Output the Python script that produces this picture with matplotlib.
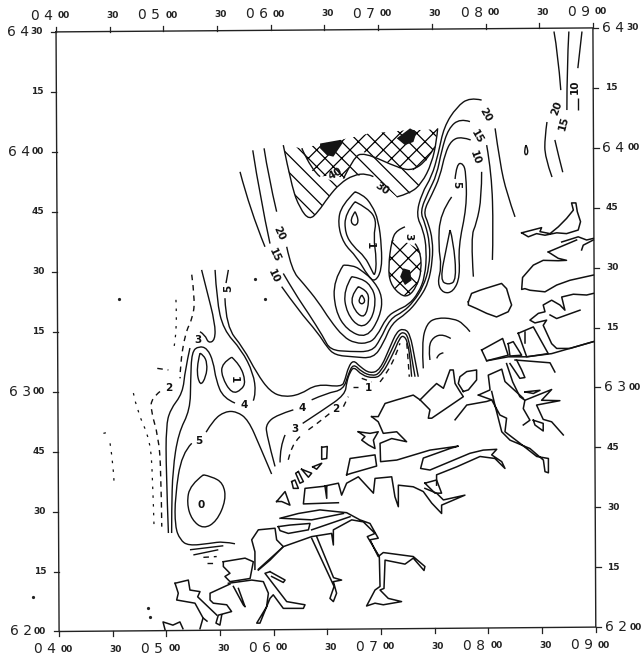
import numpy as np
import matplotlib
matplotlib.use("Agg")
from matplotlib import pyplot as plt
from matplotlib.patches import PathPatch, Polygon
from matplotlib.path import Path

# map coordinates: minutes east of 04 00, minutes north of 62 00
# frame corners as scanned (the page sits slightly crooked)
frame = [(0.3, 149.9), (299.4, 150.9), (301.0, 0.6), (2.0, -0.5)]

lon_labels = ["0400", "30", "0500", "30", "0600", "30", "0700", "30", "0800", "30", "0900"]
lat_labels = ["6200", "15", "30", "45", "6300", "15", "30", "45", "6400", "15", "6430"]

# depth contours, left flank round to the north east
c20_a = [(116.2, 120.7), (118.6, 113.6), (123.2, 104.8)]
c20_b = [(128.8, 96.0), (131.6, 90.1), (138.1, 86.8), (146.4, 82.2), (152.9, 77.6), (160.4, 73.4), (166.9, 71.8), (174.3, 71.8), (178.9, 73.4), (184.5, 78.4), (190.1, 80.1), (196.6, 81.4), (202.1, 84.3), (205.9, 88.5), (206.8, 95.2), (204.9, 100.2), (200.9, 103.9), (204.0, 109.4), (209.6, 113.6), (213.3, 119.4), (216.4, 126.1), (223.5, 131.1), (230.9, 133.5), (237.4, 132.8)]
c20_c = [(244.9, 125.7), (247.6, 116.9), (251.4, 109.4), (256.0, 103.5)]
c15_a = [(109.9, 120.2), (113.9, 108.5), (119.5, 96.8)]
c15_b = [(126.9, 89.3), (133.4, 84.3), (140.9, 79.3), (149.2, 73.4), (152.9, 70.1), (164.1, 69.7), (176.2, 69.7), (180.8, 72.6), (186.4, 78.0), (193.8, 79.7), (199.4, 82.2), (204.9, 86.0), (208.3, 91.0), (208.6, 96.8), (205.9, 101.9), (203.1, 104.8), (207.7, 109.8), (212.4, 114.0), (215.1, 120.2), (218.9, 125.7), (225.4, 128.2), (230.9, 127.4)]
c15_c = [(240.2, 121.5), (243.0, 114.4), (243.9, 100.2), (243.4, 92.7)]
c10_a = [(102.8, 114.8), (108.4, 105.2), (116.7, 96.0)]
c10_b = [(126.0, 86.0), (135.3, 80.1), (146.4, 74.3), (151.1, 70.9), (155.7, 68.8), (165.9, 68.4), (177.1, 68.0), (182.7, 71.8), (187.3, 76.8), (195.7, 79.3), (202.1, 82.6), (207.7, 86.8), (210.1, 92.7), (210.1, 97.7), (207.7, 101.9), (204.9, 104.8), (209.6, 109.0), (214.2, 113.6), (217.0, 119.4), (220.7, 122.8), (226.3, 123.6), (231.3, 122.8)]
c10_c = [(237.4, 114.8), (237.4, 108.5), (234.6, 101.9), (231.3, 98.5), (232.8, 88.5)]
c5_loop = [(220.7, 108.5), (214.2, 104.4), (213.3, 96.0), (215.1, 91.0), (212.7, 86.8), (216.1, 84.3), (221.6, 84.7), (225.4, 88.5), (224.4, 96.0), (229.1, 106.0), (228.7, 114.4), (227.2, 116.9), (223.5, 116.9), (222.6, 113.0)]
c5_inner = [(219.8, 100.2), (217.9, 96.0), (214.2, 87.6), (218.9, 86.4), (223.5, 87.6), (221.6, 97.7), (219.8, 100.2)]

blob_up_1 = [(166.9, 109.8), (159.4, 106.5), (157.2, 101.9), (160.4, 96.8), (167.8, 93.5), (174.3, 88.5), (178.0, 87.2), (181.7, 90.1), (181.7, 96.0), (179.9, 102.7), (176.2, 106.5), (171.5, 109.0), (166.9, 109.8)]
blob_up_2 = [(166.9, 107.3), (161.3, 104.4), (161.3, 99.3), (166.0, 96.0), (172.4, 93.5), (176.2, 90.1), (178.0, 88.5), (178.9, 92.7), (177.1, 98.5), (178.9, 102.7), (174.3, 105.6), (166.9, 107.3)]
blob_up_3 = [(166.9, 104.8), (163.7, 102.7), (166.9, 101.0), (169.3, 102.7), (166.9, 104.8)]
blob_low_1 = [(160.4, 91.4), (154.8, 87.6), (155.7, 80.1), (162.2, 75.1), (173.4, 73.0), (180.8, 78.4), (182.3, 83.5), (177.1, 87.6), (171.5, 89.7), (166.0, 91.4), (160.4, 91.4)]
blob_low_2 = [(165.0, 88.5), (160.4, 85.1), (162.2, 79.3), (169.7, 75.5), (176.2, 77.6), (178.6, 82.6), (176.2, 86.0), (170.6, 88.1), (165.0, 88.5)]
blob_low_3 = [(168.7, 86.0), (164.1, 83.5), (166.9, 79.7), (172.4, 78.0), (174.9, 82.6), (173.4, 85.1), (168.7, 86.0)]
blob_low_4 = [(170.6, 83.9), (168.4, 82.6), (170.6, 81.4), (173.0, 82.6), (170.6, 83.9)]
centre_ring = [(194.7, 101.0), (190.1, 100.2), (187.3, 97.7), (185.4, 91.0), (186.4, 86.8), (192.0, 83.9), (196.6, 83.5), (201.2, 86.0), (204.0, 90.1), (203.1, 95.2), (200.3, 96.8)]

c30_left = [(177.1, 113.6), (173.4, 114.4), (166.0, 114.0), (158.5, 111.9), (152.0, 108.5), (146.4, 104.8), (141.4, 102.7), (136.2, 105.6), (131.6, 111.0), (126.9, 121.5)]
c30_right = [(190.1, 108.5), (197.5, 109.4), (204.0, 111.9), (209.6, 116.9), (212.4, 122.8), (212.9, 125.7)]
c40_right = [(160.4, 113.1), (165.9, 118.2), (171.5, 119.8), (191.9, 115.6), (199.4, 115.2), (206.8, 117.7), (211.4, 121.1)]
c40_left = [(137.2, 120.7), (142.7, 115.2), (147.4, 113.6)]

hatch_cross = [(137.2, 120.7), (158.5, 122.8), (166.9, 123.6), (174.3, 124.4), (185.4, 124.8), (196.6, 125.3), (206.8, 125.3), (212.9, 125.7), (211.4, 121.1), (206.8, 117.7), (199.4, 115.2), (191.9, 115.6), (171.5, 119.8), (165.9, 118.2), (160.4, 113.1), (155.7, 114.0), (147.4, 113.6), (142.7, 115.2)]
hatch_left = [(126.9, 121.5), (137.2, 120.7), (142.7, 115.2), (147.4, 113.6), (158.5, 111.9), (152.0, 108.5), (146.4, 104.8), (141.4, 102.7), (136.2, 105.6), (131.6, 111.0)]
hatch_mid = [(160.4, 113.1), (165.9, 118.2), (171.5, 119.8), (191.9, 115.6), (201.2, 115.2), (204.0, 111.9), (197.5, 109.4), (190.1, 108.5), (177.1, 113.6), (166.0, 114.0)]
hatch_centre = [(187.3, 97.7), (185.4, 91.0), (186.4, 86.8), (192.0, 83.9), (196.6, 83.5), (201.2, 86.0), (204.0, 90.1), (203.1, 95.2), (196.0, 97.0)]
dark_a = [(147.4, 121.9), (158.5, 122.8), (160.4, 122.3), (154.8, 118.6), (151.1, 119.0), (147.4, 120.7)]
dark_b = [(190.1, 123.2), (197.5, 125.7), (201.2, 124.8), (199.4, 122.3), (194.7, 121.5)]
dark_c = [(193.8, 90.6), (197.5, 90.1), (198.4, 87.6), (194.7, 86.4), (192.0, 88.5)]

# shallow side
c5_top = [(96.3, 90.2), (95.0, 86.9)]
c5_ridge = [(94.4, 83.1), (95.0, 76.0), (104.7, 70.6), (112.1, 64.3), (119.5, 59.7), (126.9, 58.3), (136.2, 58.9), (145.5, 61.6), (159.4, 60.8), (161.3, 62.6), (163.2, 65.9), (166.0, 67.6), (169.7, 65.9), (175.2, 64.2), (180.8, 65.1), (186.4, 70.9), (190.1, 74.7), (193.8, 75.5), (197.5, 74.3), (200.3, 67.6), (202.1, 63.4)]
c4_ridge = [(142.7, 57.6), (151.1, 59.3), (160.4, 60.1), (163.2, 64.2), (166.0, 66.7), (170.6, 64.6), (176.2, 63.6), (180.8, 64.2), (187.3, 70.1), (191.0, 73.8), (193.8, 74.7), (196.6, 73.4), (199.0, 66.7), (200.3, 63.4)]
c3_ridge = [(137.7, 51.7), (149.2, 55.1), (161.3, 58.9), (162.2, 62.1), (164.1, 64.6), (166.3, 65.9), (170.6, 63.8), (177.1, 63.0), (181.7, 63.8), (188.2, 69.2), (191.6, 73.0), (193.8, 73.8), (196.2, 72.2), (197.9, 66.7), (198.4, 63.4)]
c4_upper = [(88.9, 90.2), (89.8, 82.7), (93.5, 75.2), (103.7, 70.1), (110.2, 64.3), (111.7, 59.3), (110.2, 57.4)]
c4_lower = [(100.0, 56.8), (93.5, 58.0), (89.4, 62.6), (87.9, 67.2), (84.6, 70.5), (79.9, 71.1), (75.9, 69.7), (75.3, 62.6), (75.0, 55.1), (68.4, 49.2), (65.3, 40.0), (64.7, 30.0), (64.7, 24.2)]
c3_hook = [(81.4, 90.2), (84.2, 85.2), (88.9, 76.8), (88.9, 72.6), (85.2, 71.8), (83.3, 73.9), (80.5, 74.7)]
c3_west = [(74.9, 70.6), (72.2, 65.1), (70.9, 59.3), (63.8, 55.1), (61.6, 50.9), (61.6, 40.0), (62.9, 24.2)]
c5_south = [(83.9, 49.5), (88.0, 52.6), (94.4, 54.7), (100.9, 54.7), (107.4, 52.6), (113.9, 45.9), (120.4, 39.0)]
c5_west = [(75.9, 46.7), (70.3, 44.2), (66.6, 33.3), (66.6, 25.8), (69.4, 22.5), (74.0, 21.0), (86.1, 21.6), (93.5, 22.1), (100.0, 21.5)]
c4_south = [(74.9, 20.0), (93.5, 21.0)]
c3_south = [(76.8, 18.7), (90.7, 20.0)]
c4_east = [(132.5, 55.1), (123.2, 53.8), (117.6, 51.7), (117.3, 49.2), (122.3, 40.9)]
c3_east = [(127.9, 48.8), (125.1, 45.9), (125.1, 41.9)]
oval_a = [(80.5, 69.3), (78.3, 65.5), (80.5, 60.9), (83.9, 63.4), (84.6, 66.8), (82.4, 68.9), (80.5, 69.3)]
oval_b = [(98.2, 68.3), (92.6, 66.8), (92.6, 63.4), (98.2, 59.1), (103.7, 60.1), (106.0, 62.2), (102.8, 66.4), (98.2, 68.3)]
oval_c = [(82.4, 38.8), (75.0, 36.3), (73.1, 31.7), (75.9, 27.5), (82.4, 25.2), (89.8, 27.1), (95.0, 32.5), (93.5, 36.7), (87.0, 38.4), (82.4, 38.8)]
arc_a = [(204.9, 65.5), (204.0, 71.8), (206.8, 76.8), (212.4, 78.2), (221.6, 78.0), (227.2, 76.8), (230.9, 74.7)]
arc_b = [(208.6, 67.6), (207.7, 70.9), (210.5, 73.4), (216.1, 74.1), (220.2, 73.0)]
arc_c = [(212.4, 68.0), (213.3, 69.2), (216.1, 69.4)]
oval_ne = [(262.1, 121.5), (261.0, 120.1), (262.1, 118.7), (263.6, 120.1), (262.1, 121.5)]
ne_a = [(277.7, 150.0), (279.9, 144.6), (281.5, 135.3)]
ne_b = [(286.0, 150.0), (284.9, 141.1), (284.9, 130.3)]
ne_c = [(293.3, 150.0), (291.0, 140.8)]
ne_d = [(291.0, 133.3), (291.0, 130.3)]
ne_e = [(273.8, 127.3), (272.6, 123.5), (272.6, 118.5), (276.6, 113.5)]
ne_f = [(278.2, 122.8), (280.4, 118.5), (282.6, 114.7)]

dashed_a = [(58.2, 59.7), (53.6, 58.0), (53.0, 55.1), (57.3, 48.4), (58.8, 40.0), (59.2, 25.8)]
dashed_b = [(75.9, 89.0), (77.7, 82.7), (76.4, 78.1), (72.2, 74.3), (69.4, 66.0), (69.4, 63.0)]
dashed_c = [(56.7, 65.5), (62.9, 65.1)]
dashed_d = [(140.9, 50.1), (151.1, 53.4), (153.9, 54.7)]
dashed_e = [(136.2, 48.4), (130.6, 45.9), (129.4, 41.7)]
dashed_f = [(82.4, 18.1), (89.8, 18.3)]
dashed_g = [(84.2, 16.8), (88.9, 16.8)]
dashed_h = [(160.4, 55.9), (163.1, 58.4)]
dashed_i = [(180.8, 62.1), (184.5, 64.2), (190.1, 69.2), (191.9, 71.8)]
dashed_j = [(195.7, 71.8), (196.6, 66.7), (197.1, 63.4)]
dashed_k = [(165.9, 60.9), (168.7, 60.9)]
dashed_l = [(170.6, 63.0), (176.2, 62.1)]
dotted_a = [(67.1, 82.7), (67.9, 75.2), (66.0, 70.8)]
dotted_b = [(43.4, 59.3), (45.2, 55.1), (52.7, 47.6), (54.1, 38.4), (54.9, 25.8)]
dotted_c = [(26.7, 49.2), (28.5, 49.4)]
dotted_d = [(30.4, 46.7), (32.6, 40.0), (32.6, 36.7)]
specks = [(111.2, 87.9), (116.7, 83.0), (35.4, 82.9), (-12.5, 8.1), (51.7, 5.3), (52.6, 3.2)]

# coast
coast_a = [(176.1, 53.4), (179.8, 53.4), (183.6, 56.7), (190.1, 57.6), (199.3, 58.8), (203.1, 57.6), (208.6, 60.1), (212.3, 61.7), (216.1, 60.5), (219.8, 65.1), (221.6, 65.1), (222.6, 61.7), (225.3, 59.7), (227.2, 58.4), (209.6, 53.0), (207.7, 53.0), (208.6, 55.1), (203.1, 57.6)]
coast_b = [(176.1, 53.4), (179.8, 52.1), (182.6, 49.2), (190.1, 49.6), (195.6, 47.1), (187.3, 47.9), (180.8, 46.7), (181.1, 42.1), (190.1, 42.5), (208.6, 45.0), (224.4, 46.0), (219.8, 45.4), (204.9, 43.0), (203.4, 40.4), (208.6, 40.0), (230.9, 44.2), (238.3, 45.0), (245.8, 45.2), (243.0, 43.8), (248.6, 42.1), (250.4, 40.4), (244.8, 42.9), (236.5, 43.4), (223.5, 40.8), (212.3, 38.8), (212.3, 36.2)]
coast_c = [(157.6, 31.8), (138.1, 31.5), (139.0, 35.4), (151.1, 36.0), (151.1, 32.9), (150.1, 36.0), (157.6, 36.7), (159.4, 33.7), (162.2, 36.7), (168.7, 38.3), (177.1, 34.2), (178.0, 37.9), (187.3, 38.3), (189.1, 33.3), (191.0, 30.8), (191.0, 36.2), (199.3, 35.8), (204.9, 34.6), (209.6, 31.7), (215.1, 29.1), (215.1, 31.2), (219.8, 32.1), (228.1, 33.7), (216.1, 32.5), (212.3, 34.2), (205.8, 35.4)]
coast_d = [(205.8, 36.7), (212.3, 37.5), (215.1, 34.2), (211.4, 34.2), (205.8, 36.7)]
coast_e = [(235.6, 58.8), (242.1, 60.1), (241.1, 63.8), (248.6, 65.3), (250.4, 62.2), (260.6, 58.0)]
coast_f = [(235.6, 58.8), (243.0, 57.6), (247.6, 53.8), (251.3, 53.0), (250.4, 49.6), (258.8, 46.7), (268.1, 43.4), (274.6, 42.9), (274.6, 39.3), (272.7, 39.6), (271.8, 42.5), (264.3, 45.4), (253.2, 47.5), (248.6, 49.6), (244.8, 56.3), (243.0, 59.7)]
coast_g = [(222.6, 52.6), (229.1, 56.3), (240.2, 57.2), (243.0, 57.6)]
isle_a = [(227.2, 59.7), (224.4, 61.7), (225.3, 63.4), (229.1, 64.7), (234.6, 65.1), (234.6, 62.6), (230.0, 60.1), (227.2, 59.7)]
isle_b = [(168.7, 49.6), (175.2, 49.2), (179.8, 49.6), (177.1, 47.5), (178.0, 45.4), (174.3, 46.3), (170.6, 47.5), (172.4, 48.4), (168.7, 49.6)]
isle_c = [(162.2, 38.8), (164.1, 42.9), (178.0, 43.8), (178.9, 41.0), (165.0, 39.2), (162.2, 38.8)]
isle_d = [(148.3, 45.7), (151.4, 45.9), (151.1, 42.9), (148.3, 42.7), (148.3, 45.7)]
isle_e = [(143.3, 40.8), (148.3, 41.7), (145.5, 40.2), (143.3, 40.8)]
isle_f = [(137.1, 40.2), (142.7, 39.2), (140.9, 38.2), (137.1, 40.2)]
isle_g = [(135.3, 39.6), (138.1, 37.1), (136.2, 36.7), (133.8, 39.2), (135.3, 39.6)]
isle_h = [(131.6, 37.1), (133.4, 37.5), (135.3, 35.4), (132.5, 35.4), (131.6, 37.1)]
isle_i = [(123.2, 32.1), (127.9, 34.6), (130.6, 31.2), (126.0, 32.1), (123.2, 32.1)]
fjord_a = [(125.1, 27.9), (135.3, 29.1), (147.3, 30.0), (162.2, 29.3), (169.6, 27.5), (175.2, 26.6), (179.8, 22.9), (175.2, 22.5), (179.8, 18.3), (182.6, 19.3), (199.3, 18.3), (205.8, 15.8), (205.3, 14.8), (199.3, 17.9), (194.7, 16.4), (183.6, 17.4), (183.0, 10.3), (180.8, 9.9), (185.4, 7.8), (192.8, 7.0), (182.6, 6.2), (178.0, 6.6), (173.3, 5.9), (178.0, 9.9), (180.8, 10.8), (180.4, 18.3), (173.7, 23.3), (178.0, 24.1), (171.5, 27.0), (165.0, 27.5), (154.8, 25.0), (154.8, 21.2), (153.8, 24.1), (142.7, 23.3), (127.0, 20.8), (113.0, 15.1)]
fjord_b = [(142.7, 25.0), (164.1, 28.3)]
pen_a = [(124.1, 25.8), (130.6, 26.2), (141.8, 26.6), (140.9, 25.0), (129.7, 24.1), (125.1, 24.8), (124.1, 25.8)]
pen_b = [(126.0, 27.9), (142.7, 27.5), (160.4, 29.1)]
arm_a = [(142.7, 22.9), (155.2, 10.8), (152.9, 7.8), (154.8, 7.0), (156.6, 9.1), (154.8, 12.0), (159.4, 12.4), (154.9, 13.0), (145.5, 23.3)]
block_a = [(111.1, 15.1), (111.1, 19.5), (109.3, 22.5), (113.0, 25.0), (122.3, 25.4), (123.2, 22.5), (126.9, 20.8), (119.5, 17.4), (113.0, 14.9)]
block_b = [(93.5, 17.0), (105.6, 17.9), (110.2, 17.0), (108.4, 12.8), (97.2, 12.0), (94.4, 13.3), (97.2, 14.1), (93.5, 15.8), (93.5, 17.0)]
arm_b = [(96.3, 11.6), (109.3, 12.4), (115.8, 12.0), (118.6, 9.1), (117.6, 5.7), (112.1, 1.6), (113.9, 1.6), (119.5, 7.8), (121.3, 8.7), (126.9, 5.3), (138.1, 5.3), (139.0, 6.2), (128.8, 7.0), (116.7, 14.1), (119.5, 14.5)]
arm_c = [(119.5, 14.5), (127.9, 12.4), (126.9, 11.8), (120.4, 13.3)]
arm_d = [(97.2, 11.4), (86.1, 9.1), (86.1, 7.4), (87.9, 6.6), (95.4, 6.2), (98.1, 4.5), (90.7, 3.6), (89.4, 1.6), (91.6, 1.1), (92.6, 3.6)]
arm_e = [(99.1, 10.8), (104.6, 6.2), (105.6, 5.7), (101.9, 10.3)]
west_a = [(66.6, 11.6), (74.0, 12.4), (74.9, 9.9), (80.5, 9.5), (79.2, 8.2), (89.9, 3.6)]
west_b = [(66.6, 11.6), (68.4, 9.1), (67.5, 7.4), (77.7, 6.6), (82.2, 2.9), (80.5, 0.2)]
west_c = [(82.2, 2.9), (84.4, 2.1)]
west_d = [(61.0, 0.0), (59.9, 1.9), (65.4, 1.1), (69.3, 1.9), (71.0, 0.2)]
ne_isle = [(259.7, 99.5), (270.8, 100.8), (269.9, 99.8), (275.5, 99.3), (280.1, 101.0), (284.7, 103.1), (288.5, 105.2), (287.5, 107.0), (289.9, 107.0), (290.7, 104.8), (292.5, 102.3), (291.2, 100.2), (284.7, 99.3), (279.2, 99.5), (272.7, 98.9), (268.0, 99.3), (263.4, 98.5), (259.7, 99.5)]
ne_b1 = [(282.0, 97.2), (291.2, 98.5), (295.9, 97.7), (299.6, 98.1)]
ne_b2 = [(293.1, 95.2), (294.0, 96.4), (299.6, 97.7)]
ne_c1 = [(274.5, 94.7), (290.3, 97.7)]
ne_c2 = [(274.5, 94.7), (280.1, 93.1), (284.7, 92.6), (280.1, 92.5), (271.7, 92.6), (266.2, 91.4), (260.2, 88.3), (259.7, 85.3), (261.5, 85.5), (264.3, 85.1), (272.7, 84.7), (279.2, 86.4), (286.6, 87.6), (299.6, 88.9)]
east_d = [(299.6, 84.3), (295.9, 83.9), (288.5, 84.1), (282.0, 83.4), (283.8, 80.1), (281.0, 81.4), (276.4, 82.6), (271.7, 81.4), (272.7, 79.7), (269.0, 79.3), (264.3, 77.6), (267.1, 76.9), (273.6, 77.6), (271.7, 76.3), (276.4, 71.7), (279.2, 70.5), (286.6, 70.5), (299.6, 72.2)]
east_e = [(275.5, 78.9), (279.2, 78.0), (292.2, 80.1)]
east_f = [(237.4, 70.1), (249.1, 73.0), (252.2, 68.8), (240.2, 67.4), (237.4, 70.1)]
east_g = [(252.2, 71.7), (255.0, 72.2), (259.7, 68.8), (253.2, 68.6), (252.2, 71.7)]
east_h = [(257.8, 74.3), (266.2, 75.9), (274.5, 69.2), (262.5, 68.4), (257.8, 74.3)]
east_i = [(261.5, 74.7), (261.5, 71.8)]
east_j = [(240.2, 67.4), (252.2, 68.4), (262.5, 68.4), (276.4, 69.2), (299.6, 72.2)]
east_k = [(256.0, 67.6), (275.5, 66.9), (278.2, 64.6)]
east_l = [(251.3, 66.7), (254.7, 62.1), (258.7, 58.4), (261.5, 57.5), (260.6, 55.4), (264.3, 52.5), (260.6, 51.3)]
east_m = [(261.5, 57.5), (276.4, 60.2), (270.8, 57.5), (281.0, 57.4), (268.0, 56.3), (271.7, 52.7), (276.4, 52.1), (282.9, 48.8)]
east_n = [(266.2, 52.5), (271.7, 51.7), (271.7, 49.8), (267.1, 51.3), (266.2, 52.5)]
east_o = [(261.5, 59.6), (269.9, 60.0), (266.2, 59.2), (261.5, 59.6)]
east_p = [(256.9, 67.6), (259.7, 65.1), (261.5, 63.2), (258.7, 63.0), (253.2, 66.7)]
round_isle = [(230.0, 82.2), (231.8, 84.3), (236.5, 85.1), (239.2, 85.5), (248.5, 86.8), (251.3, 85.5), (253.2, 82.6), (254.1, 81.4), (252.2, 79.7), (245.7, 78.4), (240.2, 79.3), (234.6, 80.5), (230.0, 81.4), (230.0, 82.2)]

label_text = ["20", "15", "10", "40", "30", "20", "15", "10", "5", "3", "1", "1", "20", "15", "10", "5", "3", "2", "4", "5", "4", "3", "2", "1", "0"]
label_x = [124.2, 122.3, 121.4, 155.7, 181.7, 239.3, 234.6, 233.7, 223.5, 196.6, 175.2, 174.3, 279.2, 282.9, 289.4, 96.3, 79.6, 63.2, 105.0, 80.0, 137.7, 133.4, 156.3, 99.1, 81.4]
label_y = [99.3, 93.9, 88.5, 114.4, 110.6, 129.0, 123.6, 118.2, 111.5, 98.5, 96.4, 60.5, 130.7, 126.9, 136.2, 85.6, 72.5, 60.5, 56.3, 47.4, 55.5, 50.2, 55.3, 62.6, 31.3]
label_rot = [-65, -65, -65, 30, -35, -60, -60, -70, -90, -90, -90, 0, 70, 75, 90, 90, 0, 0, 0, 0, 0, 0, 0, -90, 0]

smooth_lines = [c20_a, c20_b, c20_c, c15_a, c15_b, c15_c, c10_a, c10_b, c10_c, c5_loop, c5_inner,
                blob_up_1, blob_up_2, blob_up_3, blob_low_1, blob_low_2, blob_low_3, blob_low_4, centre_ring,
                c30_left, c30_right, c40_right, c40_left, c5_top, c5_ridge, c4_ridge, c3_ridge,
                c4_upper, c4_lower, c3_hook, c3_west, c5_south, c5_west, c4_south, c3_south, c4_east, c3_east,
                oval_a, oval_b, oval_c, arc_a, arc_b, arc_c, oval_ne, ne_a, ne_b, ne_c, ne_d, ne_e, ne_f]
dashed_lines = [dashed_a, dashed_b, dashed_c, dashed_d, dashed_e, dashed_f, dashed_g, dashed_h, dashed_i, dashed_j,
                dashed_k, dashed_l]
dotted_lines = [dotted_a, dotted_b, dotted_c, dotted_d]
coast_lines = [coast_a, coast_b, coast_c, coast_d, coast_e, coast_f, coast_g, isle_a, isle_b, isle_c, isle_d, isle_e,
               isle_f, isle_g, isle_h, isle_i, fjord_a, fjord_b, pen_a, pen_b, arm_a, block_a, block_b, arm_b, arm_c,
               arm_d, arm_e, west_a, west_b, west_c, west_d, ne_isle, ne_b1, ne_b2, ne_c1, ne_c2, east_d, east_e,
               east_f, east_g, east_h, east_i, east_j, east_k, east_l, east_m, east_n, east_o, east_p, round_isle]


def smooth(ax, pts, **kw):
    # quadratic curve through the midpoints, so the contours do not look like polygons
    pts = np.array(pts)
    if len(pts) < 3:
        verts, codes = pts, [Path.MOVETO, Path.LINETO]
    else:
        mids = (pts[1:] + pts[:-1]) / 2
        verts = [pts[0]]
        codes = [Path.MOVETO]
        for p, m in zip(pts[1:-1], mids[1:]):
            verts += [p, m]
            codes += [Path.CURVE3, Path.CURVE3]
        verts[-1] = pts[-1]
    ax.add_patch(PathPatch(Path(verts, codes), fill=False, clip_on=False, **kw))


plt.rcParams["font.family"] = "DejaVu Sans"
plt.rcParams["hatch.linewidth"] = 0.9

fig = plt.figure(figsize=(6.44, 6.60), dpi=100)
ax = fig.add_axes([55.5 / 644, 30.5 / 660, 538.5 / 644, 598 / 660])
ax.set_xlim(0, 300)
ax.set_ylim(0, 150)
ax.axis("off")

# frame and ticks
corners = np.array(frame + frame[:1])
ax.plot(corners[:, 0], corners[:, 1], color="#222222", lw=1.0, clip_on=False)
tl, tr, br, bl = [np.array(c) for c in frame]
big = dict(fontsize=10, ha="center", va="center", color="#222222", annotation_clip=False)
small = dict(fontsize=6.5, ha="center", va="center", color="#222222", fontweight="bold", annotation_clip=False)

for i, lab in enumerate(lon_labels):
    for base, tick, dy in ((tl + (tr - tl) * i / 10, 1.25, 16), (bl + (br - bl) * i / 10, -1.25, -18)):
        ax.plot([base[0], base[0]], [base[1], base[1] + tick], color="#222222", lw=0.9, clip_on=False)
        if lab == "30":
            ax.annotate(lab, base, xytext=(3, dy), textcoords="offset pixels", **small)
        else:
            ax.annotate(lab[0] + " " + lab[1], base, xytext=(-14, dy), textcoords="offset pixels", **big)
            ax.annotate(lab[2:], base, xytext=(8, dy), textcoords="offset pixels", **small)

for i, lab in enumerate(lat_labels):
    for base, tick, dbig, dsmall in ((bl + (tl - bl) * i / 10, -2.8, -38, -19), (br + (tr - br) * i / 10, 2.8, 20, 40)):
        ax.plot([base[0], base[0] + tick], [base[1], base[1]], color="#222222", lw=0.9, clip_on=False)
        if len(lab) == 2:
            ax.annotate(lab, base, xytext=(dsmall if dsmall < 0 else 18, 0), textcoords="offset pixels", **small)
        else:
            ax.annotate(lab[0] + " " + lab[1], base, xytext=(dbig, 0), textcoords="offset pixels", **big)
            ax.annotate(lab[2:], base, xytext=(dsmall, 0), textcoords="offset pixels", **small)

# hatching between the 30 and 40 lines and above
ax.add_patch(Polygon(hatch_cross, closed=True, fill=False, hatch="xx", lw=0, edgecolor="black"))
ax.add_patch(Polygon(hatch_centre, closed=True, fill=False, hatch="xx", lw=0, edgecolor="black"))
ax.add_patch(Polygon(hatch_left, closed=True, fill=False, hatch="\\\\", lw=0, edgecolor="black"))
ax.add_patch(Polygon(hatch_mid, closed=True, fill=False, hatch="\\\\", lw=0, edgecolor="black"))
for blob in (dark_a, dark_b, dark_c):
    ax.add_patch(Polygon(blob, closed=True, facecolor="#151515", edgecolor="none"))

for line in smooth_lines:
    smooth(ax, line, lw=1.0, edgecolor="#111111")
for line in dashed_lines:
    smooth(ax, line, lw=1.0, edgecolor="#111111", linestyle=(0, (4, 3.5)))
for line in dotted_lines:
    smooth(ax, line, lw=0.9, edgecolor="#111111", linestyle=(0, (2, 5)))
for line in coast_lines:
    pts = np.array(line)
    ax.plot(pts[:, 0], pts[:, 1], color="#111111", lw=1.1, clip_on=False, solid_joinstyle="round")

pts = np.array(specks)
ax.plot(pts[:, 0], pts[:, 1], ls="none", marker="o", ms=1.3, color="#222222", clip_on=False)

for txt, x, y, rot in zip(label_text, label_x, label_y, label_rot):
    ax.text(x, y, txt, fontsize=7.5, fontweight="bold", rotation=rot, ha="center", va="center", color="#111111",
            rotation_mode="anchor")

fig.savefig("out.png", dpi=100)
